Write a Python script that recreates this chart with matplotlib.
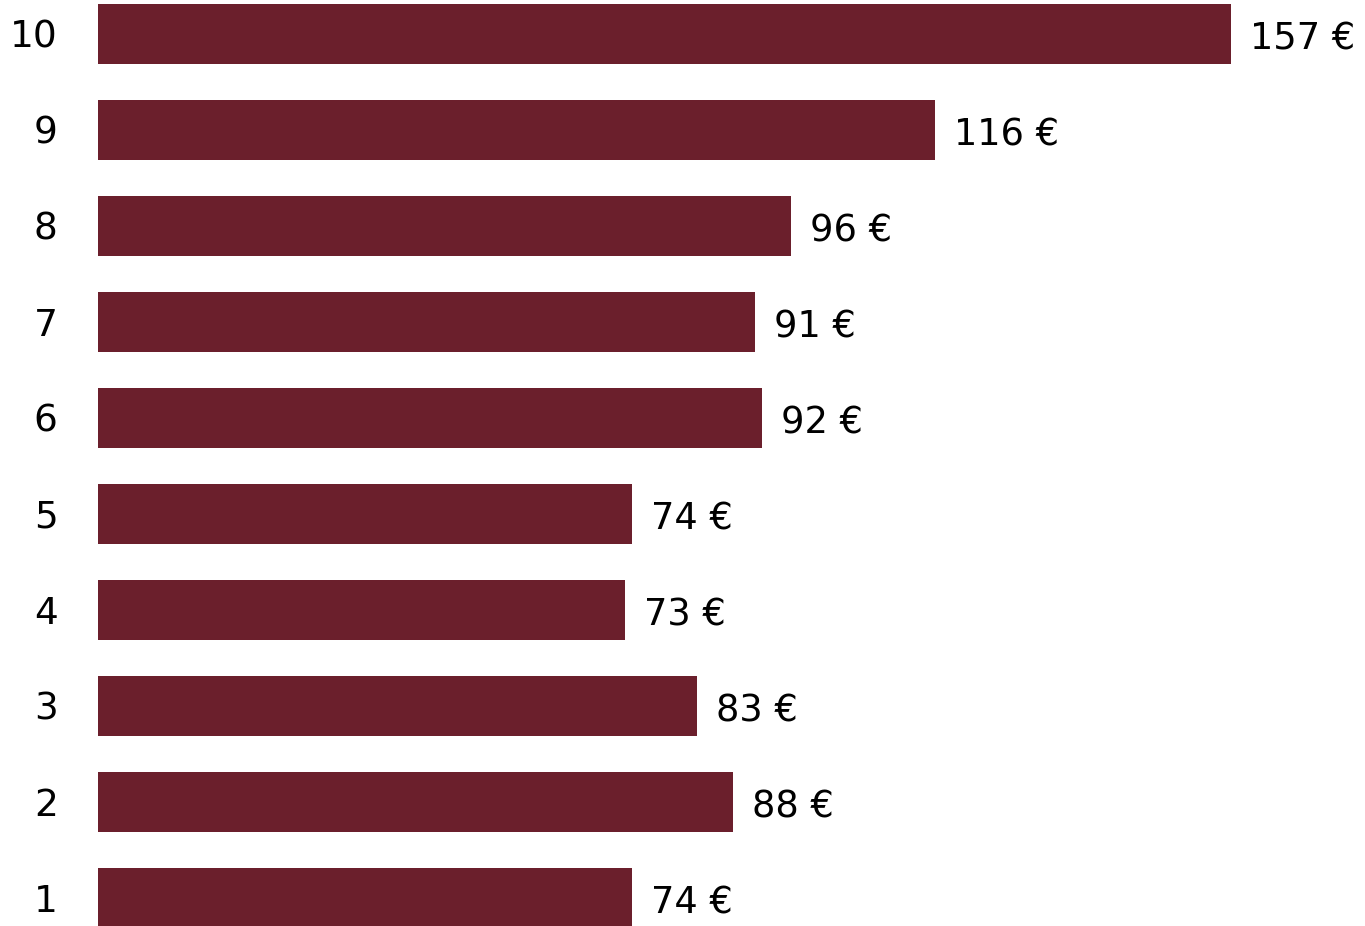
import matplotlib
matplotlib.use('Agg')
import matplotlib.pyplot as plt

# --- data
groups = ['1', '2', '3', '4', '5', '6', '7', '8', '9', '10']
values = [74, 88, 83, 73, 74, 92, 91, 96, 116, 157]
bar_color = '#6b1f2c'

plt.rcParams['font.family'] = ['DejaVu Sans']

fig = plt.figure(figsize=(13.65, 9.26), dpi=100)
ax = fig.add_axes([98 / 1365, 0, 1 - 98 / 1365, 1])

ypos = list(range(1, len(groups) + 1))
ax.barh(ypos, values, height=0.625, color=bar_color)

for y, v in zip(ypos, values):
    ax.text(v + 2.6, y - 0.05, f'{v} €', va='center', ha='left', fontsize=26.5)

ax.set_yticks(ypos)
ax.set_yticklabels(groups, fontsize=27)
ax.tick_params(axis='y', length=0, pad=29)
ax.set_xticks([])
ax.set_xlim(0, (1365 - 98) / 7.217)
ax.set_ylim(0.708, 10.354)
for s in ax.spines.values():
    s.set_visible(False)

fig.savefig('out.png', dpi=100)
